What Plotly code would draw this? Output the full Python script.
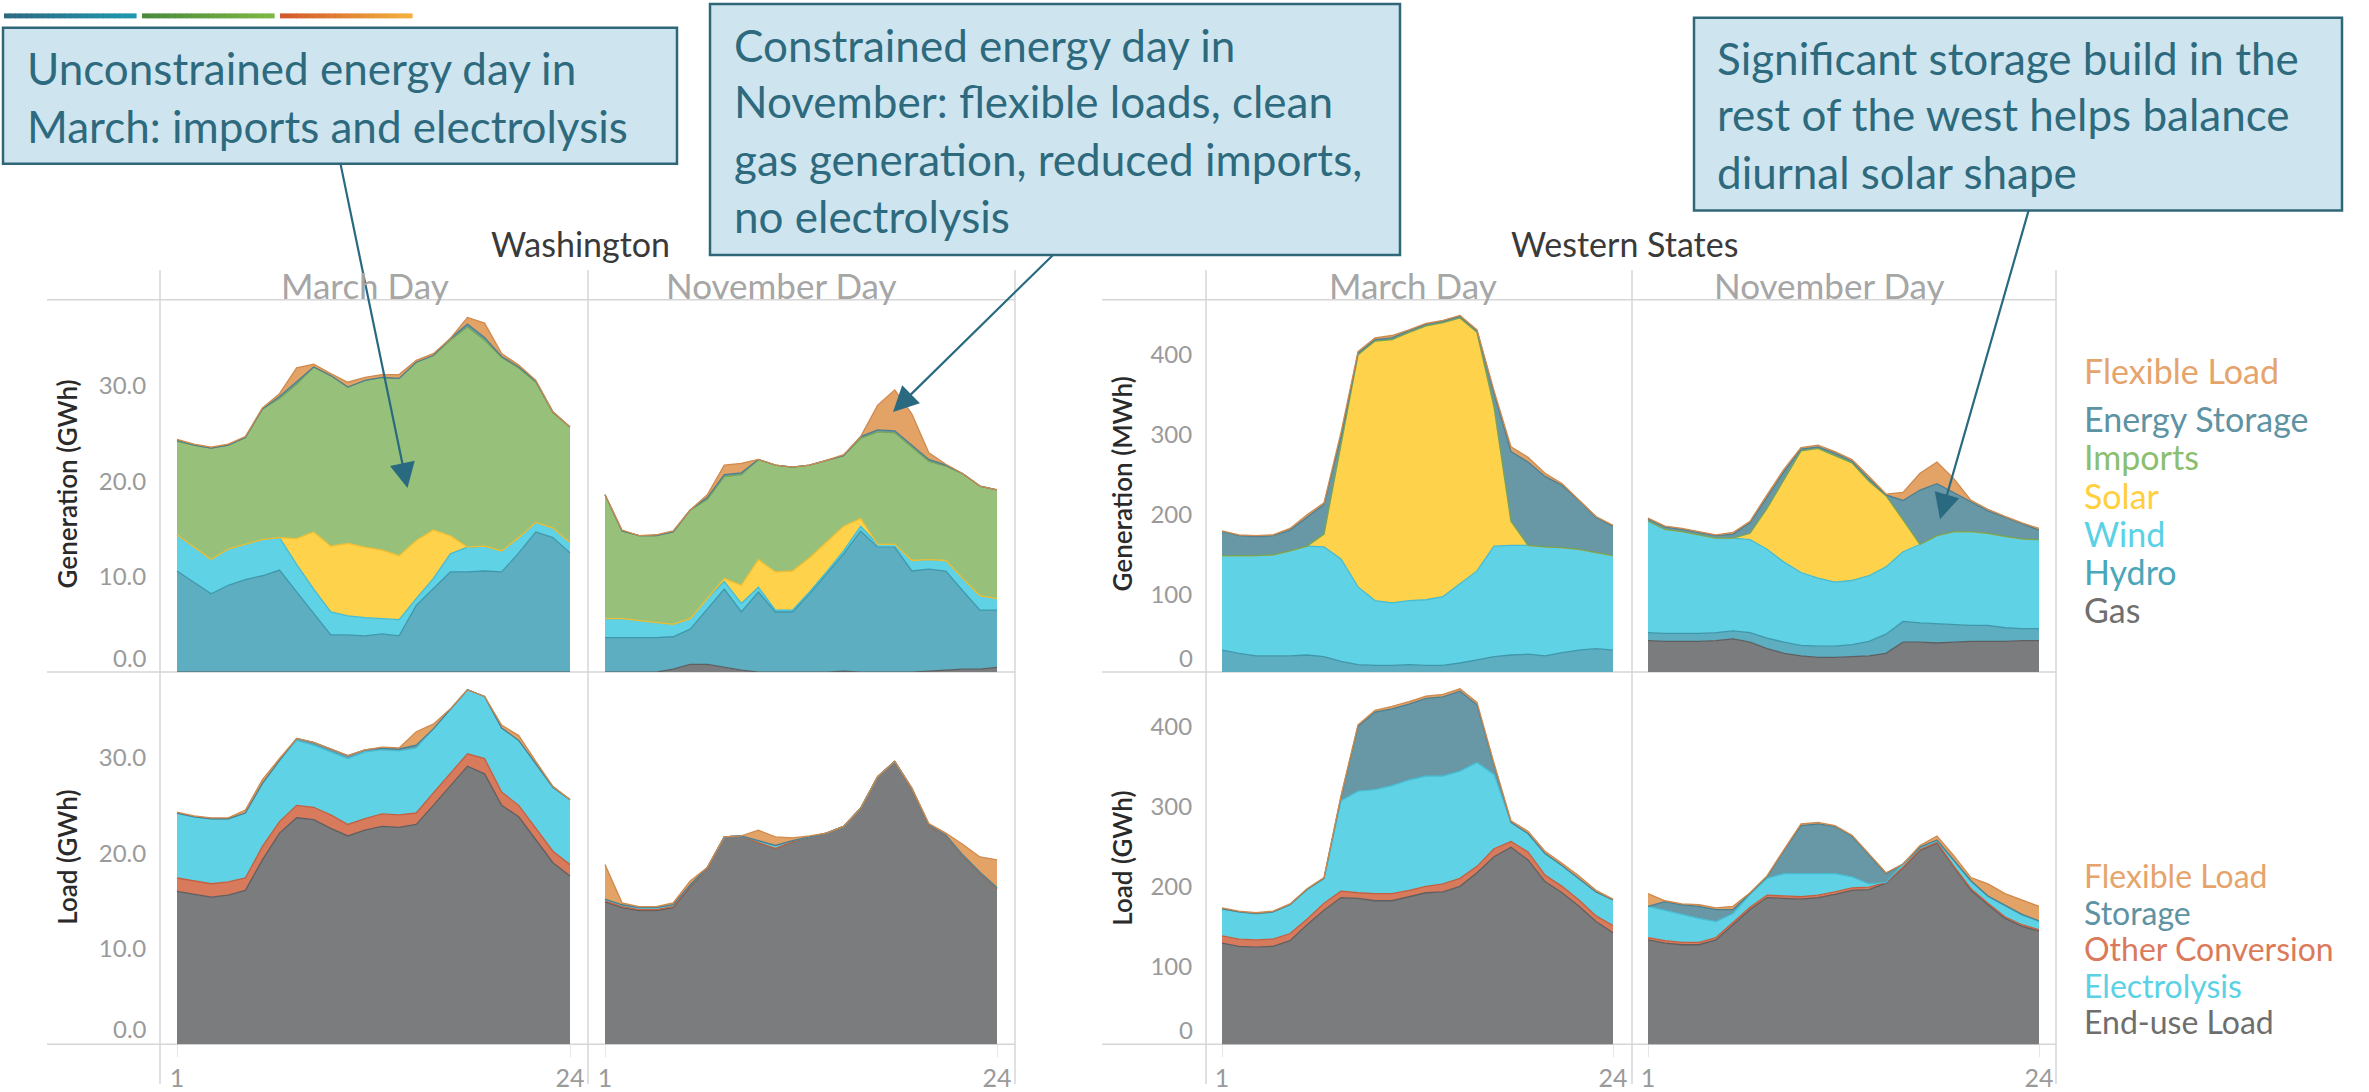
import plotly.graph_objects as go

W, H = 2369, 1092
hours = list(range(1, 25))

# ---------------- DATA ----------------
# Washington - March day - generation (GWh)
wa_mar_gen_gas = [0, 0, 0, 0, 0, 0, 0, 0, 0, 0, 0, 0, 0, 0, 0, 0, 0, 0, 0, 0, 0, 0, 0, 0]
wa_mar_gen_hydro = [10.6, 9.4, 8.2, 9.1, 9.7, 10.1, 10.7, 8.4, 6.1, 3.9, 3.9, 3.8, 4.0, 3.8, 7.0, 8.7, 10.5, 10.5, 10.6, 10.5, 12.5, 14.7, 14.1, 12.5]
wa_mar_gen_wind = [3.8, 3.7, 3.6, 3.8, 3.7, 3.8, 3.4, 2.9, 2.6, 2.4, 2.0, 1.9, 1.6, 1.7, 0.7, 1.1, 1.9, 2.6, 2.6, 2.2, 1.6, 1.0, 1.0, 1.1]
wa_mar_gen_solar = [0, 0, 0, 0, 0, 0, 0, 2.7, 6.0, 6.9, 7.6, 7.4, 7.2, 6.7, 6.1, 5.1, 1.9, 0, 0, 0, 0, 0, 0, 0]
wa_mar_gen_imports = [9.8, 10.7, 11.7, 10.9, 11.2, 13.7, 14.6, 16.2, 17.3, 17.9, 16.4, 17.5, 18.1, 18.6, 18.7, 18.3, 20.5, 23.1, 21.6, 20.3, 17.8, 14.7, 12.1, 12.1]
wa_mar_gen_storage = [0.1, 0, 0, 0, 0, 0, 0.2, 0.2, 0, 0, 0, 0, 0, 0, 0, 0, 0.2, 0.3, 0.3, 0.1, 0.1, 0.1, 0.1, 0]
wa_mar_gen_flex = [0.1, 0.1, 0.1, 0.1, 0.1, 0.1, 0.3, 1.5, 0.3, 0.2, 0.5, 0.3, 0.3, 0.4, 0.2, 0.2, 0.0, 0.7, 1.5, 0.3, 0.2, 0.1, 0.0, 0.0]

# Washington - November day - generation (GWh)
wa_nov_gen_gas = [0, 0, 0, 0, 0.3, 0.8, 0.8, 0.5, 0.2, 0, 0, 0, 0, 0, 0.1, 0, 0, 0, 0, 0.1, 0.2, 0.3, 0.3, 0.5]
wa_nov_gen_hydro = [3.6, 3.6, 3.6, 3.6, 3.4, 3.7, 5.8, 8.2, 6.1, 8.4, 6.3, 6.3, 8.2, 10.3, 12.3, 14.8, 13.1, 13.1, 10.6, 10.7, 10.4, 8.2, 6.2, 6.0]
wa_nov_gen_wind = [2.0, 2.0, 1.8, 1.6, 1.3, 1.1, 1.1, 0.8, 0.9, 0.5, 0.2, 0.2, 0.2, 0.2, 0.3, 0.5, 0.3, 0.3, 1.1, 1.0, 1.1, 1.3, 1.5, 1.2]
wa_nov_gen_solar = [0, 0, 0, 0, 0, 0, 0, 0.3, 1.9, 2.9, 4.0, 4.1, 3.6, 3.1, 2.6, 0.8, 0, 0, 0, 0, 0, 0, 0, 0]
wa_nov_gen_imports = [13.0, 9.2, 8.9, 9.1, 9.7, 11.4, 10.4, 10.7, 11.6, 10.5, 11.2, 10.9, 9.7, 8.6, 7.4, 8.4, 11.8, 11.7, 11.9, 10.3, 9.9, 11.0, 11.5, 11.4]
wa_nov_gen_storage = [0, 0, 0, 0, 0, 0, 0.2, 0.2, 0.2, 0, 0, 0, 0, 0, 0, 0.2, 0.2, 0.2, 0.2, 0.2, 0.1, 0, 0, 0]
wa_nov_gen_flex = [0, 0.1, 0, 0.1, 0.1, 0, 0.3, 1.0, 1.0, 0, 0, 0, 0, 0, 0.1, 0, 2.6, 4.3, 3.3, 0.7, 0.1, 0, 0, 0]

# Washington - March day - load (GWh)
wa_mar_load_enduse = [16.0, 15.7, 15.4, 15.6, 16.1, 19.3, 22.1, 23.7, 23.5, 22.6, 21.8, 22.4, 22.8, 22.7, 23.0, 25.0, 27.1, 29.1, 28.3, 25.0, 23.8, 21.4, 19.0, 17.6]
wa_mar_load_other = [1.4, 1.4, 1.4, 1.4, 1.3, 1.4, 1.2, 1.3, 1.3, 1.4, 1.2, 1.2, 1.3, 1.3, 1.2, 1.3, 1.3, 1.3, 1.6, 1.4, 1.2, 1.2, 1.2, 1.2]
wa_mar_load_elec = [6.8, 6.7, 6.8, 6.6, 6.8, 6.6, 6.4, 6.8, 6.5, 6.6, 6.9, 7.0, 6.7, 6.7, 6.8, 6.7, 6.7, 6.7, 6.5, 6.7, 6.8, 6.7, 6.7, 6.8]
wa_mar_load_storage = [0, 0, 0, 0, 0, 0, 0, 0.2, 0.3, 0.3, 0.3, 0.2, 0.2, 0.2, 0.3, 0, 0, 0, 0, 0, 0, 0, 0, 0]
wa_mar_load_flex = [0.1, 0.1, 0.1, 0.1, 0.3, 0.4, 0.2, 0, 0, 0, 0, 0, 0.1, 0.1, 1.4, 0.5, 0, 0, 0, 0.3, 0.5, 0.3, 0.1, 0]

# Washington - November day - load (GWh)
wa_nov_load_enduse = [14.9, 14.3, 14.0, 14.0, 14.3, 16.5, 18.4, 21.7, 21.8, 21.1, 20.5, 21.2, 21.7, 22.1, 22.8, 24.7, 28.0, 29.6, 26.7, 22.9, 21.8, 19.7, 17.9, 16.3]
wa_nov_load_other = [0.1, 0.1, 0.1, 0.1, 0.1, 0.1, 0, 0, 0, 0, 0, 0, 0, 0, 0, 0, 0, 0, 0, 0, 0, 0, 0, 0]
wa_nov_load_elec = [0.2, 0.2, 0.2, 0.2, 0.2, 0.1, 0.1, 0, 0, 0.2, 0.3, 0.1, 0, 0, 0, 0, 0, 0, 0.1, 0.1, 0.1, 0.1, 0.1, 0.1]
wa_nov_load_storage = [0, 0, 0, 0, 0, 0, 0, 0, 0, 0, 0, 0, 0, 0, 0, 0, 0, 0, 0, 0, 0, 0, 0, 0]
wa_nov_load_flex = [3.6, 0.2, 0.1, 0.1, 0.2, 0.4, 0, 0, 0, 1.1, 0.9, 0.3, 0.1, 0, 0, 0, 0, 0, 0, 0.1, 0.2, 1.1, 1.6, 2.9]

# Western States - March day - generation (MWh)
ws_mar_gen_gas = [0, 0, 0, 0, 0, 0, 0, 0, 0, 0, 0, 0, 0, 0, 0, 0, 0, 0, 0, 0, 0, 0, 0, 0]
ws_mar_gen_hydro = [31, 27, 24, 24, 24, 25, 23, 17, 13, 12, 12, 13, 12, 12, 15, 19, 23, 25, 26, 24, 28, 31, 33, 31]
ws_mar_gen_wind = [118, 122, 125, 126, 131, 136, 137, 128, 97, 81, 78, 80, 82, 86, 99, 111, 138, 137, 136, 136, 131, 126, 120, 118]
ws_mar_gen_solar = [0, 0, 0, 0, 0, 0, 16, 143, 290, 324, 329, 335, 342, 342, 332, 298, 174, 30, 0, 0, 0, 0, 0, 0]
ws_mar_gen_imports = [0, 0, 0, 0, 0, 0, 0, 0, 0, 0, 0, 0, 0, 0, 0, 0, 0, 0, 0, 0, 0, 0, 0, 0]
ws_mar_gen_storage = [30, 25, 24, 24, 26, 36, 37, 10, 2, 2, 2, 2, 2, 2, 2, 2, 17, 87, 104, 88, 78, 61, 44, 37]
ws_mar_gen_flex = [1, 1, 1, 1, 2, 3, 2, 5, 2, 2, 3, 1, 1, 1, 1, 1, 3, 6, 6, 4, 2, 1, 1, 1]

# Western States - November day - generation (MWh)
ws_nov_gen_gas = [43, 42, 42, 42, 43, 45, 41, 33, 27, 24, 22, 22, 23, 24, 27, 41, 41, 40, 41, 42, 42, 42, 43, 43]
ws_nov_gen_hydro = [10, 10, 10, 10, 10, 10, 12, 13, 14, 13, 14, 14, 15, 18, 24, 26, 24, 24, 22, 20, 20, 17, 15, 15]
ws_nov_gen_wind = [139, 130, 127, 123, 118, 116, 116, 111, 100, 91, 85, 80, 80, 82, 84, 87, 98, 110, 116, 117, 115, 114, 112, 111]
ws_nov_gen_solar = [0, 0, 0, 0, 0, 0, 8, 51, 103, 152, 162, 158, 147, 118, 89, 40, 0, 0, 0, 0, 0, 0, 0, 0]
ws_nov_gen_imports = [0, 0, 0, 0, 0, 0, 0, 0, 0, 0, 0, 0, 0, 0, 0, 0, 0, 0, 0, 0, 0, 0, 0, 0]
ws_nov_gen_storage = [3, 3, 3, 3, 3, 5, 13, 14, 10, 2, 2, 3, 2, 3, 1, 24, 68, 65, 49, 37, 28, 24, 19, 12]
ws_nov_gen_flex = [1, 1, 1, 1, 1, 2, 2, 3, 3, 2, 2, 2, 2, 3, 1, 10, 21, 27, 17, 2, 2, 1, 1, 2]

# Western States - March day - load (GWh)
ws_mar_load_enduse = [129, 125, 124, 125, 132, 152, 170, 186, 185, 182, 182, 187, 192, 193, 200, 217, 237, 249, 233, 206, 192, 175, 156, 142]
ws_mar_load_other = [9, 9, 9, 9, 9, 7, 9, 8, 7, 9, 9, 8, 8, 10, 10, 8, 10, 7, 10, 8, 8, 8, 7, 9]
ws_mar_load_elec = [34, 34, 33, 34, 36, 37, 31, 113, 127, 130, 135, 138, 138, 135, 134, 130, 93, 24, 23, 27, 26, 27, 30, 32]
ws_mar_load_storage = [0, 0, 0, 0, 0, 0, 0, 5, 81, 97, 96, 95, 97, 99, 100, 72, 12, 0, 0, 0, 0, 0, 0, 0]
ws_mar_load_flex = [1, 1, 1, 1, 1, 1, 1, 1, 2, 2, 3, 3, 3, 3, 3, 3, 2, 2, 3, 3, 3, 3, 2, 1]

# Western States - November day - load (GWh)
ws_nov_load_enduse = [133, 129, 127, 127, 133, 152, 171, 186, 185, 184, 186, 190, 195, 196, 204, 223, 245, 254, 224, 195, 177, 160, 150, 144]
ws_nov_load_other = [3, 3, 3, 3, 3, 3, 3, 3, 3, 3, 3, 3, 3, 3, 1, 1, 1, 1, 1, 2, 2, 2, 2, 2]
ws_nov_load_elec = [39, 38, 35, 30, 20, 11, 16, 21, 28, 29, 27, 23, 14, 4, 0, 4, 2, 2, 7, 9, 8, 13, 12, 10]
ws_nov_load_storage = [0, 11, 12, 15, 15, 5, 1, 2, 29, 60, 62, 59, 51, 36, 11, 0, 1, 1, 1, 1, 1, 1, 1, 1]
ws_nov_load_flex = [16, 1, 1, 2, 2, 4, 1, 1, 1, 2, 2, 1, 1, 1, 1, 0, 2, 5, 5, 4, 15, 15, 18, 18]

gen_series = ["Gas", "Hydro", "Wind", "Solar", "Imports", "Energy Storage", "Flexible Load"]
load_series = ["End-use Load", "Other Conversion", "Electrolysis", "Storage", "Flexible Load"]
gen_legend = ["Flexible Load", "Energy Storage", "Imports", "Solar", "Wind", "Hydro", "Gas"]
load_legend = ["Flexible Load", "Storage", "Other Conversion", "Electrolysis", "End-use Load"]
day_labels = ["March Day", "November Day"]
region_titles = ["Washington", "Western States"]
wa_ticks = [10, 20, 30]
wa_ticktext = ["10.0", "20.0", "30.0"]
ws_ticks = [100, 200, 300, 400]
ws_ticktext = ["100", "200", "300", "400"]
x_ticks = [1, 24]
x_ticktext = ["1", "24"]

# ---------------- STYLE ----------------
FILL = {"Gas": "#7B7C7E", "End-use Load": "#7B7C7E", "Hydro": "#5CAEC0", "Wind": "#60D2E5",
        "Electrolysis": "#60D2E5", "Solar": "#FED24B", "Imports": "#97C17A",
        "Energy Storage": "#6897A5", "Storage": "#6897A5", "Flexible Load": "#E3A266",
        "Other Conversion": "#D87A5C"}
EDGE = {"Gas": "#5E5F61", "End-use Load": "#5E5F61", "Hydro": "#3F97AB", "Wind": "#45BCD2",
        "Electrolysis": "#45BCD2", "Solar": "#F0BE30", "Imports": "#76A55A",
        "Energy Storage": "#4C7F90", "Storage": "#4C7F90", "Flexible Load": "#CF8A4E",
        "Other Conversion": "#C4603F"}
LEG = {"Gas": "#6F6F6F", "End-use Load": "#6E6E6E", "Hydro": "#4AA6B9", "Wind": "#5BD1E6",
       "Electrolysis": "#5BD1E6", "Solar": "#FFCF3C", "Imports": "#8BBE6F",
       "Energy Storage": "#5E93A3", "Storage": "#5E93A3", "Flexible Load": "#E5A46B",
       "Other Conversion": "#DB7A5A"}

FONT = "Lato"
TEXT_BLUE = "#2E6A7E"
BOX_FILL = "#CEE5EF"
BOX_EDGE = "#2F6779"
GRIDC = "#D6D6D6"


def X(p):
    return p / W


def Y(p):
    return 1 - p / H


fig = go.Figure()

panels = [
    ((160, 588), (177, 570), (302, 677), (0, 39.05), gen_series,
     [wa_mar_gen_gas, wa_mar_gen_hydro, wa_mar_gen_wind, wa_mar_gen_solar, wa_mar_gen_imports, wa_mar_gen_storage, wa_mar_gen_flex]),
    ((588, 1015), (605, 997), (302, 677), (0, 39.05), gen_series,
     [wa_nov_gen_gas, wa_nov_gen_hydro, wa_nov_gen_wind, wa_nov_gen_solar, wa_nov_gen_imports, wa_nov_gen_storage, wa_nov_gen_flex]),
    ((160, 588), (177, 570), (677, 1052), (0, 38.95), load_series,
     [wa_mar_load_enduse, wa_mar_load_other, wa_mar_load_elec, wa_mar_load_storage, wa_mar_load_flex]),
    ((588, 1015), (605, 997), (677, 1052), (0, 38.95), load_series,
     [wa_nov_load_enduse, wa_nov_load_other, wa_nov_load_elec, wa_nov_load_storage, wa_nov_load_flex]),
    ((1206, 1632), (1222, 1613), (302, 677), (3.7, 468.6), gen_series,
     [ws_mar_gen_gas, ws_mar_gen_hydro, ws_mar_gen_wind, ws_mar_gen_solar, ws_mar_gen_imports, ws_mar_gen_storage, ws_mar_gen_flex]),
    ((1632, 2056), (1648, 2039), (302, 677), (3.7, 468.6), gen_series,
     [ws_nov_gen_gas, ws_nov_gen_hydro, ws_nov_gen_wind, ws_nov_gen_solar, ws_nov_gen_imports, ws_nov_gen_storage, ws_nov_gen_flex]),
    ((1206, 1632), (1222, 1613), (677, 1052), (2.5, 468.0), load_series,
     [ws_mar_load_enduse, ws_mar_load_other, ws_mar_load_elec, ws_mar_load_storage, ws_mar_load_flex]),
    ((1632, 2056), (1648, 2039), (677, 1052), (2.5, 468.0), load_series,
     [ws_nov_load_enduse, ws_nov_load_other, ws_nov_load_elec, ws_nov_load_storage, ws_nov_load_flex]),
]

tickfont = dict(family=FONT, size=24, color="#9A9A9A")

for i, (xd, dd, yd, yr, names, data) in enumerate(panels, start=1):
    sx = "" if i == 1 else str(i)
    for name, vals in zip(names, data):
        fig.add_trace(go.Scatter(
            x=hours, y=vals, name=name, stackgroup=f"g{i}", mode="lines",
            line=dict(color=EDGE[name], width=1.3), fillcolor=FILL[name],
            xaxis=f"x{sx}", yaxis=f"y{sx}", showlegend=False, hoverinfo="skip"))
    pph = (dd[1] - dd[0]) / 23
    xr = [1 - (dd[0] - xd[0]) / pph, 24 + (xd[1] - dd[1]) / pph]
    is_load = yd[0] == 677
    is_left = i in (1, 3, 5, 7)
    is_ws = i >= 5
    xa = dict(domain=[X(xd[0]), X(xd[1])], range=xr, anchor=f"y{sx}",
              showgrid=False, zeroline=False, showline=False, fixedrange=True,
              tickvals=x_ticks, ticktext=x_ticktext, showticklabels=is_load,
              ticks="outside" if is_load else "", ticklen=12, tickcolor="#E6E6E6", tickwidth=1,
              tickfont=dict(family=FONT, size=25, color="#9A9A9A"))
    ya = dict(domain=[Y(yd[1]), Y(yd[0])], range=list(yr), anchor=f"x{sx}",
              showgrid=False, zeroline=False, showline=False, fixedrange=True,
              tickvals=ws_ticks if is_ws else wa_ticks,
              ticktext=ws_ticktext if is_ws else wa_ticktext,
              showticklabels=is_left, ticks="outside" if is_left else "",
              ticklen=8, tickcolor="rgba(0,0,0,0)", tickfont=tickfont)
    fig.layout[f"xaxis{sx}"] = xa
    fig.layout[f"yaxis{sx}"] = ya

shapes = []
for x0, x1 in [(47, 1015), (1102, 2056)]:
    for yy in (302, 677, 1052):
        shapes.append(dict(type="line", xref="paper", yref="paper", x0=X(x0), x1=X(x1),
                           y0=Y(yy), y1=Y(yy), line=dict(color=GRIDC, width=1.5), layer="below"))
for xx in (160, 588, 1015, 1206, 1632, 2056):
    shapes.append(dict(type="line", xref="paper", yref="paper", x0=X(xx), x1=X(xx),
                       y0=Y(272), y1=Y(1092), line=dict(color=GRIDC, width=1.5), layer="below"))

# gradient bars at top-left
bars = [((4, 136), (0x2D, 0x6A, 0x82), (0x1E, 0x98, 0xAE)),
        ((142, 274), (0x4A, 0x8A, 0x3C), (0x7D, 0xB7, 0x43)),
        ((280, 412), (0xD3, 0x5A, 0x2A), (0xF2, 0xB0, 0x3E))]
nseg = 24
for (bx0, bx1), c0, c1 in bars:
    for k in range(nseg):
        t = k / (nseg - 1)
        c = tuple(int(round(c0[j] + (c1[j] - c0[j]) * t)) for j in range(3))
        sx0 = bx0 + (bx1 - bx0) * k / nseg
        sx1 = bx0 + (bx1 - bx0) * (k + 1) / nseg + 0.6
        shapes.append(dict(type="rect", xref="paper", yref="paper", x0=X(sx0), x1=X(sx1),
                           y0=Y(18.5), y1=Y(13.5), line=dict(width=0),
                           fillcolor="rgb(%d,%d,%d)" % c, layer="above"))

# callout boxes
boxes = [(3, 28, 677, 165), (710, 4, 1400, 257), (1694, 18, 2342, 212)]
for bx0, by0, bx1, by1 in boxes:
    shapes.append(dict(type="rect", xref="paper", yref="paper", x0=X(bx0), x1=X(bx1),
                       y0=Y(by1), y1=Y(by0), fillcolor=BOX_FILL,
                       line=dict(color=BOX_EDGE, width=2.5), layer="above"))
fig.update_layout(shapes=shapes)

ann = []


def text(x, y, s, size, color, xanchor="left", yanchor="middle", angle=0, weight="normal"):
    ann.append(dict(xref="paper", yref="paper", x=X(x), y=Y(y), text=s, showarrow=False,
                    xanchor=xanchor, yanchor=yanchor, textangle=angle,
                    font=dict(family=FONT, size=size, color=color, weight=weight)))


box_lines = [
    (25, [68, 127], ["Unconstrained energy day in", "March: imports and electrolysis"]),
    (732, [45, 102, 160, 218], ["Constrained energy day in", "November: flexible loads, clean",
                                "gas generation, reduced imports,", "no electrolysis"]),
    (1715, [58, 115, 173], ["Significant storage build in the", "rest of the west helps balance",
                            "diurnal solar shape"]),
]
for lx, ys, lines in box_lines:
    for yy, s in zip(ys, lines):
        text(lx, yy, s, 44, TEXT_BLUE)

arrows = [((407.5, 491.7), (340, 165)), ((893, 415), (1054, 257)), ((1940, 523), (2029, 213))]
for (hx, hy), (tx, ty) in arrows:
    ann.append(dict(xref="paper", yref="paper", x=X(hx), y=Y(hy), ax=tx - hx, ay=ty - hy,
                    axref="pixel", ayref="pixel", text="", showarrow=True, arrowhead=2,
                    arrowsize=2.3, arrowwidth=2.2, arrowcolor="#2A6A81", standoff=0))

text(580, 245, region_titles[0], 34, "#3A3A3A", xanchor="center")
text(1624, 245, region_titles[1], 34, "#3A3A3A", xanchor="center")
for cx, lab in zip([365, 781, 1413, 1829], day_labels * 2):
    text(cx, 287, lab, 35, "#A6A6A6", xanchor="center")

text(67, 488, "Generation (GWh)", 26, "#2A2A2A", xanchor="center", angle=-90, weight=600)
text(67, 864, "Load (GWh)", 26, "#2A2A2A", xanchor="center", angle=-90, weight=600)
text(1122, 488, "Generation (MWh)", 26, "#2A2A2A", xanchor="center", angle=-90, weight=600)
text(1122, 865, "Load (GWh)", 26, "#2A2A2A", xanchor="center", angle=-90, weight=600)

text(149, 662, "0.0", 24, "#9A9A9A", xanchor="right")
text(149, 1036, "0.0", 24, "#9A9A9A", xanchor="right")
text(1195, 662, "0", 24, "#9A9A9A", xanchor="right")
text(1195, 1037, "0", 24, "#9A9A9A", xanchor="right")


def legend_block(x, y_first, y_last, names, glyph_size):
    # one multi-line text; line pitch follows the base font size, glyphs drawn at glyph_size
    pitch = (y_last - y_first) / (len(names) - 1)
    base = pitch / 1.3
    s = "<br>".join('<span style="font-size:%dpx;color:%s">%s</span>' % (glyph_size, LEG[n], n)
                    for n in names)
    ann.append(dict(xref="paper", yref="paper", x=X(x), y=Y((y_first + y_last) / 2), text=s,
                    showarrow=False, xanchor="left", yanchor="middle", align="left",
                    font=dict(family=FONT, size=base, color=LEG[names[0]])))


text(2082, 373, gen_legend[0], 34, LEG[gen_legend[0]])
legend_block(2082, 421.7, 613, gen_legend[1:], 34)
legend_block(2082, 883, 1029, load_legend, 32)

fig.update_layout(annotations=ann, width=W, height=H,
                  margin=dict(l=0, r=0, t=0, b=0, pad=0),
                  paper_bgcolor="white", plot_bgcolor="rgba(0,0,0,0)",
                  font=dict(family=FONT), showlegend=False)

fig.write_html("out.html", config={"displayModeBar": False},
               post_script="document.body.style.margin='0';document.body.style.overflow='hidden';")
